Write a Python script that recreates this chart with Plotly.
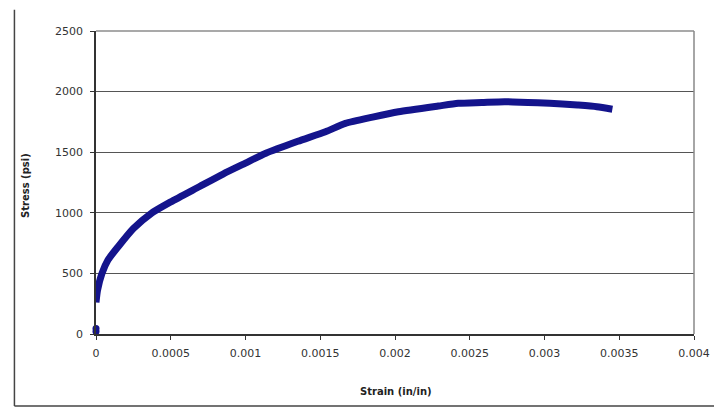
import plotly.graph_objects as go

strain = [0.0, 0.00001, 0.00004, 0.00008, 0.000148, 0.00025, 0.00037, 0.0005, 0.00069,
          0.00085, 0.001, 0.001136, 0.00135, 0.001535, 0.001668, 0.00185, 0.002023,
          0.00229, 0.002423, 0.00258, 0.002733, 0.002955, 0.00312, 0.003221, 0.00335, 0.003454]
stress = [260, 360, 500, 610, 720, 870, 996, 1090, 1215,
          1320, 1410, 1491, 1590, 1669, 1738, 1790, 1834,
          1881, 1903, 1910, 1917, 1908, 1898, 1889, 1875, 1854]
origin_strain = [0.0, 0.0]
origin_stress = [20, 45]

y_ticks = [0, 500, 1000, 1500, 2000, 2500]
x_ticks = [0, 0.0005, 0.001, 0.0015, 0.002, 0.0025, 0.003, 0.0035, 0.004]
x_tick_text = ["0", "0.0005", "0.001", "0.0015", "0.002", "0.0025", "0.003", "0.0035", "0.004"]

navy = "#14148c"
fig = go.Figure()
fig.add_trace(go.Scatter(x=strain, y=stress, mode="lines",
                         line=dict(color=navy, width=7, shape="spline", smoothing=0.6),
                         showlegend=False, hoverinfo="skip", cliponaxis=False))
fig.add_trace(go.Scatter(x=origin_strain, y=origin_stress, mode="markers",
                         marker=dict(color=navy, size=7),
                         showlegend=False, hoverinfo="skip", cliponaxis=False))

fam = "DejaVu Sans, Verdana, sans-serif"
font = dict(family=fam, size=11, color="#333")
title_font = dict(family=fam, size=10, color="#222")
fig.update_layout(
    width=714, height=400,
    margin=dict(l=88, r=25, t=23, b=74),
    paper_bgcolor="white", plot_bgcolor="white",
    font=font,
    xaxis=dict(range=[0, 0.004], tickvals=x_ticks, ticktext=x_tick_text,
               showgrid=False, zeroline=False, showline=True, linecolor="#333", linewidth=1.5,
               mirror=False, ticks="outside", ticklen=4, tickcolor="#333",
               ticklabelstandoff=4, tickfont=font, fixedrange=True),
    yaxis=dict(range=[0, 2500], tickvals=y_ticks,
               showgrid=True, gridcolor="#555", gridwidth=1.2, zeroline=False,
               showline=True, linecolor="#333", linewidth=1.5,
               ticks="outside", ticklen=4, tickcolor="#333",
               ticklabelstandoff=5, tickfont=font, fixedrange=True),
    annotations=[
        dict(text="<b>Strain (in/in)</b>", x=0.502, y=-0.19, xref="paper", yref="paper",
             showarrow=False, font=title_font, xanchor="center", yanchor="middle"),
        dict(text="<b>Stress (psi)</b>", x=-0.118, y=0.49, xref="paper", yref="paper",
             showarrow=False, textangle=-90, font=title_font,
             xanchor="center", yanchor="middle"),
    ],
    shapes=[
        dict(type="line", xref="paper", yref="paper", x0=0, x1=1, y0=1, y1=1,
             line=dict(color="#555", width=1.2)),
        dict(type="line", xref="paper", yref="paper", x0=1, x1=1, y0=0, y1=1,
             line=dict(color="#888", width=1.5)),
        dict(type="line", xref="paper", yref="paper", x0=-0.1364, x1=-0.1364, y0=-0.2376, y1=1.07,
             line=dict(color="#444", width=1.5)),
        dict(type="line", xref="paper", yref="paper", x0=-0.1364, x1=1.05, y0=-0.2376, y1=-0.2376,
             line=dict(color="#444", width=1.5)),
    ],
)
fig.write_html("out.html")
